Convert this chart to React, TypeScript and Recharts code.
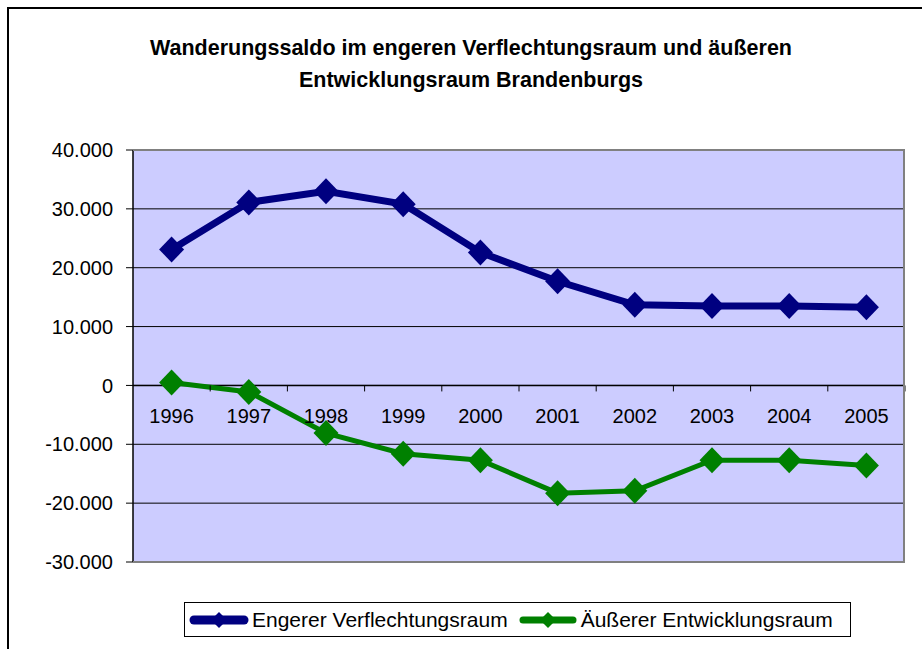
import React from "react";
import {
  LineChart,
  Line,
  XAxis,
  YAxis,
  CartesianGrid,
  ReferenceLine,
  Legend,
} from "recharts";

const years = ["1996", "1997", "1998", "1999", "2000", "2001", "2002", "2003", "2004", "2005"];
const engererValues = [23100, 31100, 33000, 30800, 22600, 17700, 13700, 13500, 13500, 13300];
const aeussererValues = [500, -1100, -8100, -11600, -12700, -18300, -17900, -12700, -12700, -13600];
const yTicks = [-30000, -20000, -10000, 0, 10000, 20000, 30000, 40000];

const series = [
  { key: "engerer", name: "Engerer Verflechtungsraum", color: "#000080", width: 7 },
  { key: "aeusserer", name: "Äußerer Entwicklungsraum", color: "#008000", width: 5 },
];

const chartData = years.map((year, i) => ({
  year,
  engerer: engererValues[i],
  aeusserer: aeussererValues[i],
}));

// layout
const W = 922;
const H = 649;
const PLOT_LEFT = 133;
const PLOT_TOP = 150;
const PLOT_RIGHT = 905;
const PLOT_BOTTOM = 562;
const PLOT_W = PLOT_RIGHT - PLOT_LEFT;
const PLOT_H = PLOT_BOTTOM - PLOT_TOP;
const Y_AXIS_W = 80;
const Y_MIN = yTicks[0];
const Y_MAX = yTicks[yTicks.length - 1];
const BAND = PLOT_W / years.length;
const ZERO_Y = PLOT_TOP + (PLOT_H * Y_MAX) / (Y_MAX - Y_MIN);
const FONT = '"Liberation Sans", Arial, sans-serif';

const fmt = (v: number) => {
  const s = Math.abs(v).toString().replace(/\B(?=(\d{3})+(?!\d))/g, ".");
  return v < 0 ? "-" + s : s;
};

function Diamond(props: any) {
  const { cx, cy, stroke } = props;
  if (cx == null || cy == null) return null;
  const hw = 12.5;
  const hh = 13;
  return (
    <polygon
      points={`${cx},${cy - hh} ${cx + hw},${cy} ${cx},${cy + hh} ${cx - hw},${cy}`}
      fill={stroke}
      stroke="none"
    />
  );
}

function YearTick(props: any) {
  const { x, payload } = props;
  return (
    <g>
      <text
        x={x}
        y={ZERO_Y + 30}
        dy="0.355em"
        textAnchor="middle"
        fontSize={20}
        fontFamily={FONT}
        fill="#000"
      >
        {payload.value}
      </text>
      <line x1={x + BAND / 2} x2={x + BAND / 2} y1={ZERO_Y} y2={ZERO_Y + 6} stroke="#000" />
    </g>
  );
}

function LegendBox() {
  return (
    <div
      style={{
        display: "flex",
        alignItems: "center",
        border: "1px solid #000",
        background: "#fff",
        height: 33,
        width: 665,
        boxSizing: "content-box",
        fontFamily: FONT,
        fontSize: 21,
        color: "#000",
      }}
    >
      {series.map((s, i) => (
        <div key={s.key} style={{ display: "flex", alignItems: "center", marginLeft: i === 0 ? 4 : 10 }}>
          <svg width={60} height={20} style={{ display: "block" }}>
            <line x1={5} x2={55} y1={10} y2={10} stroke={s.color} strokeWidth={s.width + 2} strokeLinecap="round" />
            <polygon points="30,2 38,10 30,18 22,10" fill={s.color} />
          </svg>
          <span style={{ marginLeft: 3, whiteSpace: "nowrap" }}>{s.name}</span>
        </div>
      ))}
    </div>
  );
}

export default function App() {
  return (
    <div style={{ position: "absolute", left: 0, top: 0, width: W, height: H, overflow: "hidden", background: "#fff" }}>
      <div
        style={{
          position: "absolute",
          left: 7,
          top: 7,
          width: 940,
          height: 700,
          border: "2px solid #000",
          boxSizing: "border-box",
        }}
      />
      <div
        style={{
          position: "absolute",
          left: 0,
          top: 32,
          width: 942,
          textAlign: "center",
          fontFamily: FONT,
          fontWeight: "bold",
          fontSize: 21.5,
          lineHeight: "32px",
          color: "#000",
        }}
      >
        Wanderungssaldo im engeren Verflechtungsraum und äußeren
        <br />
        Entwicklungsraum Brandenburgs
      </div>
      <div style={{ position: "absolute", left: 0, top: 0 }}>
        <LineChart
          width={W}
          height={H}
          data={chartData}
          margin={{
            top: PLOT_TOP,
            right: W - PLOT_RIGHT,
            left: PLOT_LEFT - Y_AXIS_W,
            bottom: H - PLOT_BOTTOM - 1,
          }}
        >
          <CartesianGrid horizontal vertical={false} stroke="#000" fill="#CCCCFF" fillOpacity={1} />
          <ReferenceLine y={0} stroke="#000" strokeWidth={1.5} />
          <XAxis
            dataKey="year"
            height={1}
            axisLine={false}
            tickLine={false}
            interval={0}
            padding={{ left: BAND / 2, right: BAND / 2 }}
            tick={<YearTick />}
          />
          <YAxis
            width={Y_AXIS_W}
            domain={[Y_MIN, Y_MAX]}
            ticks={yTicks}
            tickFormatter={fmt}
            axisLine={{ stroke: "#000", strokeWidth: 1.5 }}
            tickLine={{ stroke: "#000" }}
            tickSize={7}
            tickMargin={13}
            tick={{ fill: "#000", fontSize: 20, fontFamily: FONT }}
            allowDataOverflow
          />
          <Legend
            layout="horizontal"
            verticalAlign="middle"
            align="center"
            wrapperStyle={{ left: 184, top: 602, width: "auto" }}
            content={<LegendBox />}
          />
          {series.map((s) => (
            <Line
              key={s.key}
              type="linear"
              dataKey={s.key}
              name={s.name}
              stroke={s.color}
              strokeWidth={s.width}
              dot={<Diamond />}
              activeDot={false}
              isAnimationActive={false}
            />
          ))}
        </LineChart>
      </div>
      {/* plot frame: grey on top, right and bottom like the Excel original */}
      <div
        style={{
          position: "absolute",
          left: PLOT_LEFT,
          top: PLOT_TOP - 1,
          width: PLOT_W,
          height: PLOT_H + 2,
          borderTop: "2px solid #808080",
          borderRight: "2px solid #808080",
          borderBottom: "2px solid #808080",
          boxSizing: "border-box",
          pointerEvents: "none",
        }}
      />
    </div>
  );
}
